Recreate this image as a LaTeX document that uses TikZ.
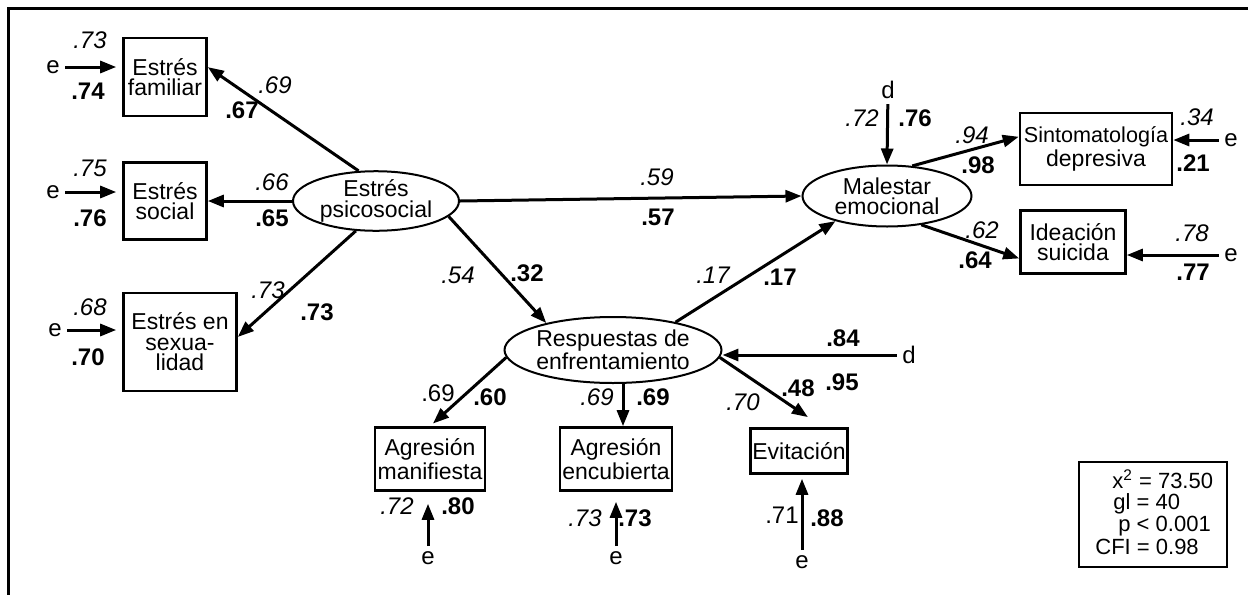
\documentclass[tikz,border=0pt]{standalone}
\usepackage{fontspec}
\setmainfont{Liberation Sans}
\usetikzlibrary{
  arrows.meta,
  shapes.geometric
}
\newcommand{\dgmsize}{\fontsize{11.5}{10.2}\selectfont}
\newcommand{\numsize}{\fontsize{12}{12}\selectfont}
\tikzset{
  >={Triangle[length=8pt,width=6pt]},
  link/.style={->,line width=1.5pt,draw=black},
  obs/.style={draw,line width=1.3pt,align=center,inner sep=0pt,font=\dgmsize},
  lat/.style={ellipse,draw,line width=1pt,align=center,inner sep=0pt,font=\dgmsize},
  err/.style={inner sep=2.5pt,font=\numsize},
  ita/.style={inner sep=0pt,font=\numsize\itshape},
  bld/.style={inner sep=0pt,font=\numsize\bfseries},
  reg/.style={inner sep=0pt,font=\numsize},
  stat/.style={inner sep=0pt,anchor=base west,font=\fontsize{11}{11}\selectfont},
  frame/.style={line width=1.5pt}
}
\newcommand{\varbox}[5]{%
  \node[obs,minimum width=#3,minimum height=#4] (#1) at (#2) {#5};%
}
\newcommand{\latvar}[5]{%
  \node[lat,minimum width=#3,minimum height=#4] (#1) at (#2) {#5};%
}

\begin{document}
\begin{tikzpicture}[x=0.5pt,y=-0.5pt]
  \useasboundingbox (0,0) rectangle (1248,595);
  % Open frame (top and left only).
  \draw[frame] (1248,8) -- (8,8) -- (8,595);

  % Observed variables.
  \varbox{fam}{165,77}{41.5pt}{39pt}{Estrés\\familiar}
  \varbox{soc}{165,201}{41.5pt}{38.5pt}{Estrés\\social}
  \varbox{sex}{180,342}{56.5pt}{49pt}{Estrés en\\sexua-\\lidad}
  \varbox{agm}{430,459}{55pt}{31.5pt}{Agresión\\manifiesta}
  \varbox{agc}{616,459}{56pt}{31.5pt}{Agresión\\encubierta}
  \varbox{evit}{799,451}{48.5pt}{22.5pt}{Evitación}
  \varbox{sint}{1096,149}{76pt}{36pt}{\fontsize{10.8}{10.2}\selectfont Sintomatología\\depresiva}
  \varbox{idea}{1073,242}{52.5pt}{31.5pt}{Ideación\\suicida}

  % Latent variables.
  \latvar{psico}{376,201}{83pt}{26.5pt}{Estrés\\psicosocial}
  \latvar{mal}{887,196}{84.5pt}{30.5pt}{Malestar\\emocional}
  \latvar{resp}{613,350}{91.5pt}{33pt}{Respuestas de\\enfrentamiento}

  % Error and disturbance terms.
  \node[err] (efam) at (53,67) {e};
  \node[err] (esoc) at (53,192) {e};
  \node[err] (esex) at (55,330) {e};
  \node[err] (eagm) at (428,558) {e};
  \node[err] (eagc) at (616,558) {e};
  \node[err] (eevit) at (802,562) {e};
  \node[err] (esint) at (1231,140) {e};
  \node[err] (eidea) at (1231,255) {e};
  \node[err] (dmal) at (888,90) {d};
  \node[err] (dres) at (909,355) {d};

  % Paths.
  \draw[link] (psico.120) -- (fam.13);
  \draw[link] (psico) -- (soc);
  \draw[link] (psico.236) -- (sex.5);
  \draw[link] (psico.-12) -- (resp.158);
  \draw[link] (psico.east) -- (mal.west);
  \draw[link] (resp.24) -- (mal.206);
  \draw[link] (dres.west) -- (resp.east |- dres.west);
  \draw[link,shorten >=9pt] (resp.-4) -- (evit.45);
  \draw[link,shorten >=2pt] (resp.184) -- (agm.north);
  \draw[link] ([xshift=5pt]resp.south) -- ([xshift=5pt]resp.south |- agc.north);
  \draw[link] (dmal) -- (mal.north);
  \draw[link] (mal.50) -- (sint.171);
  \draw[link] (mal.-40) -- (idea.197);
  \draw[link] (esint) -- (sint.east |- esint);
  \draw[link] (eidea) -- (idea.east |- eidea);
  \foreach \e/\v in {efam/fam,esoc/soc,esex/sex} {
    \draw[link,shorten >=3pt] (\e) -- (\v.west |- \e);
  }
  \draw[link,shorten >=6pt] (eagm) -- (eagm |- agm.south);
  \draw[link,shorten >=5pt] (eagc) -- (eagc |- agc.south);
  \draw[link,shorten >=2pt] (eevit) -- (eevit |- evit.south);

  % Coefficients: italic, bold and plain.
  \foreach \x/\y/\t [count=\i] in {
    90/40/.73, 275/85/.69, 90/168/.75, 272/182/.66, 90/307/.68,
    268/290/.73, 458/275/.54, 657/177/.59, 713/275/.17, 743/402/.70,
    597/397/.69, 862/118/.72, 972/135/.94, 982/230/.62, 1197/117/.34,
    1192/233/.78, 397/506/.72, 585/518/.73
  } {
    \node[ita] (it\i) at (\x,\y) {\t};
  }
  \foreach \x/\y/\t [count=\i] in {
    88/91/.74, 242/110/.67, 90/218/.76, 272/218/.65, 88/357/.70,
    317/312/.73, 527/273/.32, 658/217/.57, 780/277/.17, 843/338/.84,
    842/382/.95, 798/388/.48, 490/397/.60, 653/397/.69, 915/118/.76,
    978/165/.98, 975/260/.64, 1193/163/.21, 1193/272/.77, 458/506/.80,
    635/518/.73, 827/518/.88
  } {
    \node[bld] (bf\i) at (\x,\y) {\t};
  }
  \node[reg] (rg1) at (438,393) {.69};
  \node[reg] (rg2) at (782,515) {.71};

  % Fit indices.
  \node[obs,minimum width=74pt,minimum height=52.5pt] (fitbox) at (1153,514.5) {};
  \node[stat] (chi) at (1112,488) {x\textsuperscript{2} = 73.50};
  \node[stat] (gl) at (1113,509) {gl = 40};
  \node[stat] (pv) at (1118,531) {p < 0.001};
  \node[stat] (cfi) at (1095,554) {CFI = 0.98};
\end{tikzpicture}
\end{document}
